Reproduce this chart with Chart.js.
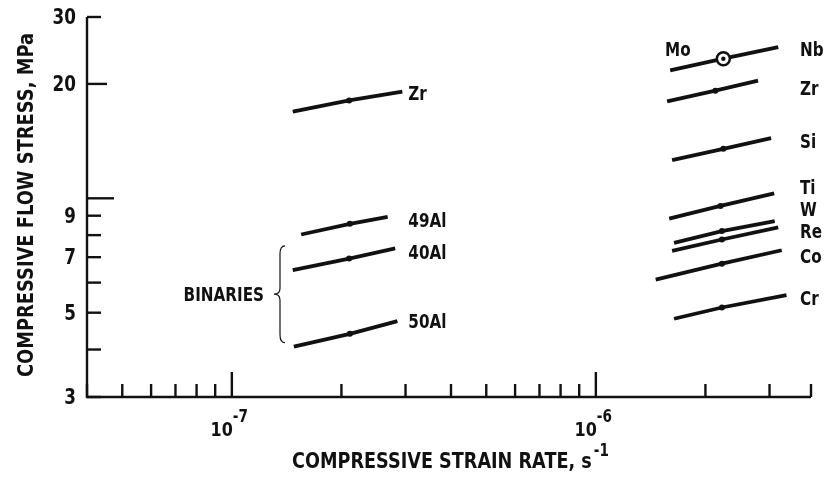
<!DOCTYPE html>
<html>
<head>
<meta charset="utf-8">
<script src="https://cdn.jsdelivr.net/npm/chart.js@4.4.0/dist/chart.umd.min.js"></script>
<style>
  html, body { margin: 0; padding: 0; background: #fff; }
  #wrap { width: 826px; height: 478px; }
</style>
</head>
<body>
<div id="wrap"><canvas id="flow-chart" width="826" height="478"></canvas></div>
<script>
// Binary alloys (left group) - strain rate / flow stress
var binNames  = ['Zr', '49Al', '40Al', '50Al'];
var binXStart = [1.47e-7, 1.55e-7, 1.47e-7, 1.48e-7];
var binXMid   = [2.10e-7, 2.11e-7, 2.10e-7, 2.11e-7];
var binXEnd   = [2.94e-7, 2.68e-7, 2.81e-7, 2.85e-7];
var binYStart = [16.9, 8.03, 6.47, 4.07];
var binYMid   = [18.1, 8.57, 6.94, 4.40];
var binYEnd   = [19.1, 8.93, 7.38, 4.75];
var binLabelY = [19.0, 8.81, 7.25, 4.77];

// Ternary additions (right group)
var terNames  = ['Nb', 'Zr', 'Si', 'Ti', 'W', 'Re', 'Co', 'Cr'];
var terXStart = [1.60e-6, 1.57e-6, 1.62e-6, 1.59e-6, 1.64e-6, 1.62e-6, 1.46e-6, 1.64e-6];
var terXMid   = [2.24e-6, 2.13e-6, 2.24e-6, 2.20e-6, 2.22e-6, 2.22e-6, 2.22e-6, 2.22e-6];
var terXEnd   = [3.17e-6, 2.79e-6, 3.03e-6, 3.09e-6, 3.10e-6, 3.17e-6, 3.24e-6, 3.34e-6];
var terYStart = [21.7, 18.0, 12.6, 8.84, 7.63, 7.27, 6.11, 4.82];
var terYMid   = [23.3, 19.2, 13.5, 9.55, 8.20, 7.79, 6.73, 5.16];
var terYEnd   = [25.0, 20.4, 14.4, 10.3, 8.71, 8.38, 7.30, 5.56];
var terLabelY = [24.8, 19.6, 14.2, 10.8, 9.41, 8.24, 7.08, 5.49];

// Axis ticks
var yTicks = [3, 4, 5, 6, 7, 8, 9, 10, 20, 30];
var yTickLabels = { 3: '3', 5: '5', 7: '7', 9: '9', 20: '20', 30: '30' };
var xTicks = [4e-8, 5e-8, 6e-8, 7e-8, 8e-8, 9e-8, 1e-7, 2e-7, 3e-7, 4e-7, 5e-7, 6e-7, 7e-7, 8e-7, 9e-7, 1e-6, 2e-6, 3e-6];
var xTickLabels = [[1e-7, '-7'], [1e-6, '-6']];

var FONT = '"DejaVu Sans", "Liberation Sans", sans-serif';
var INK = '#111';

function segment(x0, xm, x1, y0, ym, y1) {
    return [{x: x0, y: y0}, {x: xm, y: ym}, {x: x1, y: y1}];
}

var datasets = [];
// Mo/Nb centre dot (index 0 is drawn on top)
datasets.push({
    data: [{x: terXMid[0], y: terYMid[0]}],
    showLine: false,
    pointRadius: 2.2,
    pointBackgroundColor: INK,
    pointBorderWidth: 0
});
binNames.forEach(function(n, i) {
    datasets.push({
        data: segment(binXStart[i], binXMid[i], binXEnd[i], binYStart[i], binYMid[i], binYEnd[i]),
        showLine: true
    });
});
terNames.forEach(function(n, i) {
    var ds = {
        data: segment(terXStart[i], terXMid[i], terXEnd[i], terYStart[i], terYMid[i], terYEnd[i]),
        showLine: true
    };
    if (i === 0) {
        // open circle marker on the Mo/Nb line
        ds.pointRadius = [0, 6.5, 0];
        ds.pointBackgroundColor = '#fff';
        ds.pointBorderWidth = 2.5;
    }
    datasets.push(ds);
});

// condensed text helper
function txt(ctx, s, x, y, size, align, sx) {
    ctx.save();
    ctx.font = 'bold ' + size + 'px ' + FONT;
    ctx.fillStyle = INK;
    ctx.textBaseline = 'alphabetic';
    var w = ctx.measureText(s).width * sx;
    var left = x;
    if (align === 'right') left = x - w;
    if (align === 'center') left = x - w / 2;
    ctx.translate(left, y);
    ctx.scale(sx, 1);
    ctx.fillText(s, 0, 0);
    ctx.restore();
    return w;
}

// Draws axes, inward ticks, labels and annotations
var frame = {
    id: 'frame',
    afterDraw: function(chart) {
        var ctx = chart.ctx;
        var xs = chart.scales.x, ys = chart.scales.y;
        var a = chart.chartArea;
        var sx = 0.8;

        ctx.save();
        ctx.strokeStyle = INK;
        ctx.lineWidth = 2.4;
        ctx.lineCap = 'butt';

        // axis lines
        ctx.beginPath();
        ctx.moveTo(a.left, a.top);
        ctx.lineTo(a.left, a.bottom);
        ctx.lineTo(a.right, a.bottom);
        ctx.stroke();

        // y ticks
        yTicks.forEach(function(v) {
            var py = ys.getPixelForValue(v);
            var len = v === 10 ? 27 : (v === 20 ? 20 : 14);
            ctx.beginPath();
            ctx.moveTo(a.left, py);
            ctx.lineTo(a.left + len, py);
            ctx.stroke();
            if (yTickLabels[v]) txt(ctx, yTickLabels[v], a.left - 11, py + 7, 21, 'right', sx);
        });

        // x ticks
        xTicks.forEach(function(v) {
            var px = xs.getPixelForValue(v);
            var major = (v === 1e-7 || v === 1e-6);
            ctx.beginPath();
            ctx.moveTo(px, a.bottom);
            ctx.lineTo(px, a.bottom - (major ? 25 : 13));
            ctx.stroke();
        });
        ctx.beginPath();
        ctx.moveTo(a.right, a.bottom);
        ctx.lineTo(a.right, a.bottom - 13);
        ctx.stroke();

        xTickLabels.forEach(function(t) {
            var px = xs.getPixelForValue(t[0]);
            txt(ctx, '10', px + 1, a.bottom + 39, 20, 'right', sx);
            txt(ctx, t[1], px + 1, a.bottom + 25, 17, 'left', sx);
        });

        // axis titles
        var w = txt(ctx, 'COMPRESSIVE STRAIN RATE, s', 292, 468, 21, 'left', 0.84);
        txt(ctx, '-1', 292 + w + 2, 456, 17, 'left', sx);

        ctx.save();
        ctx.translate(33, 205);
        ctx.rotate(-Math.PI / 2);
        txt(ctx, 'COMPRESSIVE FLOW STRESS, MPa', 0, 0, 21, 'center', 0.85);
        ctx.restore();

        // series labels
        binNames.forEach(function(n, i) {
            txt(ctx, n, xs.getPixelForValue(binXEnd[0]) + 6, ys.getPixelForValue(binLabelY[i]) + 8, 19, 'left', sx);
        });
        terNames.forEach(function(n, i) {
            txt(ctx, n, 800, ys.getPixelForValue(terLabelY[i]) + 8, 19, 'left', sx);
        });
        txt(ctx, 'Mo', 665, ys.getPixelForValue(terLabelY[0]) + 8, 19, 'left', sx);

        // BINARIES brace
        var top = ys.getPixelForValue(7.5), bot = ys.getPixelForValue(4.17);
        var mid = (top + bot) / 2, bx = 280;
        ctx.lineWidth = 1.2;
        ctx.beginPath();
        ctx.moveTo(bx + 5, top);
        ctx.quadraticCurveTo(bx, top, bx, top + 8);
        ctx.lineTo(bx, mid - 6);
        ctx.quadraticCurveTo(bx, mid, bx - 6, mid);
        ctx.quadraticCurveTo(bx, mid, bx, mid + 6);
        ctx.lineTo(bx, bot - 8);
        ctx.quadraticCurveTo(bx, bot, bx + 5, bot);
        ctx.stroke();
        txt(ctx, 'BINARIES', 264, mid + 7, 19, 'right', sx);

        ctx.restore();
    }
};

var ctx = document.getElementById('flow-chart').getContext('2d');
new Chart(ctx, {
    type: 'scatter',
    data: { datasets: datasets },
    options: {
        responsive: false,
        animation: false,
        layout: { padding: { left: 87, right: 15, top: 17, bottom: 81 } },
        elements: {
            line: { borderColor: INK, borderWidth: 3.8, tension: 0 },
            point: { radius: [0], backgroundColor: INK, borderColor: INK, borderWidth: 0 }
        },
        datasets: {
            scatter: { pointRadius: [0, 3, 0], pointBackgroundColor: INK, pointBorderColor: INK, clip: false }
        },
        plugins: { legend: { display: false }, tooltip: { enabled: false } },
        scales: {
            x: { type: 'logarithmic', min: 4e-8, max: 3.9e-6, display: false },
            y: { type: 'logarithmic', min: 3, max: 30, display: false }
        }
    },
    plugins: [frame]
});
</script>
</body>
</html>
